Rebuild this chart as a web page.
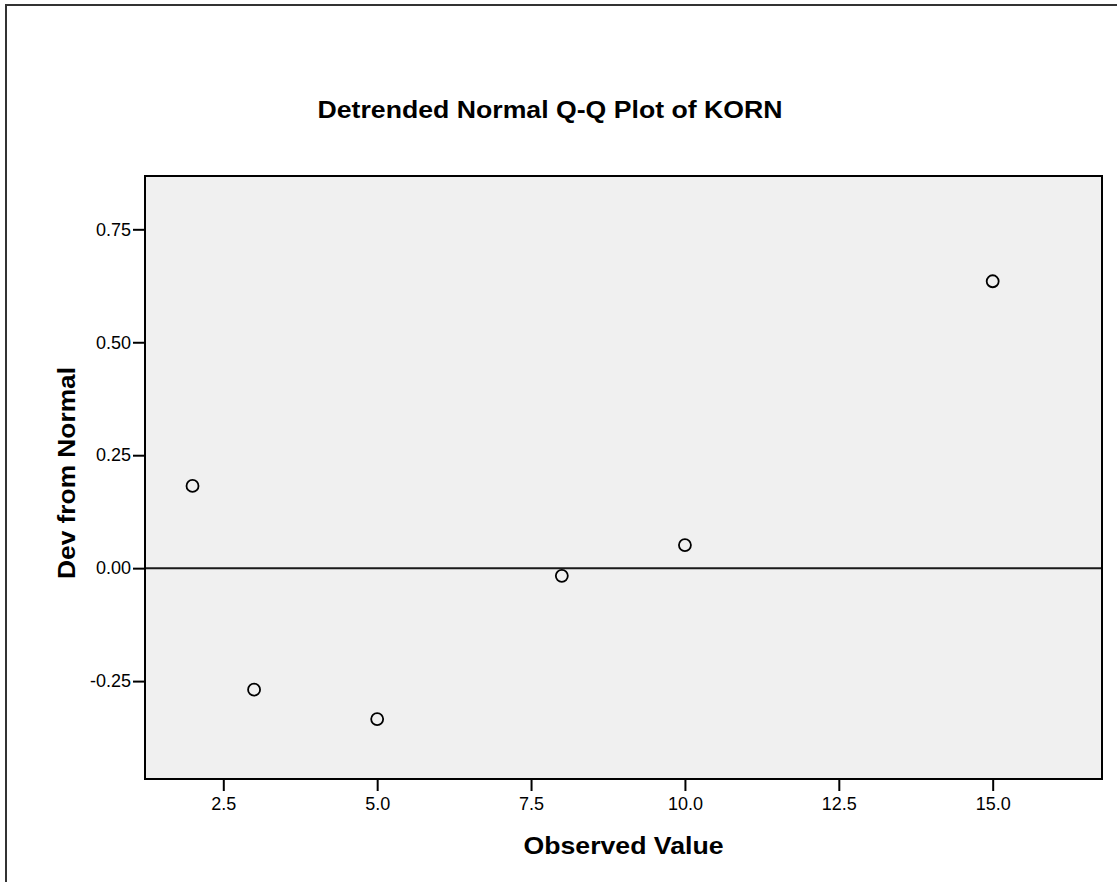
<!DOCTYPE html>
<html>
<head>
<meta charset="utf-8">
<script src="https://cdn.jsdelivr.net/npm/d3@7"></script>
<style>
  html, body { margin: 0; padding: 0; background: #fff; }
  svg { display: block; font-family: "Liberation Sans", Arial, sans-serif; }
</style>
</head>
<body>
<div id="chart"></div>
<script>
// observed values and their deviation from normal
const observed = [2, 3, 5, 8, 10, 15];
const deviation = [0.182, -0.269, -0.334, -0.017, 0.051, 0.635];

const xTicks = [2.5, 5.0, 7.5, 10.0, 12.5, 15.0];
const yTicks = [-0.25, 0.0, 0.25, 0.5, 0.75];
const xRange = [1.228, 16.776];
const yRange = [-0.4667, 0.868];

const title = "Detrended Normal Q-Q Plot of KORN";
const xTitle = "Observed Value";
const yTitle = "Dev from Normal";

const width = 1117;
const height = 882;
const margin = { top: 176, right: 15, bottom: 103, left: 145 };

const svg = d3
  .select("#chart")
  .append("svg")
  .attr("width", width)
  .attr("height", height);

// outer frame (only top and left edges are visible in the crop)
svg
  .append("path")
  .attr("d", `M6,${height} V5 H${width}`)
  .attr("fill", "none")
  .attr("stroke", "#333")
  .attr("stroke-width", 2);

const x = d3
  .scaleLinear()
  .domain(xRange)
  .range([margin.left, width - margin.right]);
const y = d3
  .scaleLinear()
  .domain(yRange)
  .range([height - margin.bottom, margin.top]);

// plot background
svg
  .append("rect")
  .attr("x", margin.left)
  .attr("y", margin.top)
  .attr("width", width - margin.left - margin.right)
  .attr("height", height - margin.top - margin.bottom)
  .attr("fill", "#f0f0f0");

// zero reference line
svg
  .append("line")
  .attr("x1", margin.left)
  .attr("x2", width - margin.right)
  .attr("y1", y(0))
  .attr("y2", y(0))
  .attr("stroke", "#1a1a1a")
  .attr("stroke-width", 2);

svg
  .append("g")
  .selectAll("circle")
  .data(observed.map((d, i) => [d, deviation[i]]))
  .join("circle")
  .attr("cx", (d) => x(d[0]))
  .attr("cy", (d) => y(d[1]))
  .attr("r", 6)
  .attr("fill", "none")
  .attr("stroke", "#000")
  .attr("stroke-width", 1.8);

// plot frame
svg
  .append("rect")
  .attr("x", margin.left)
  .attr("y", margin.top)
  .attr("width", width - margin.left - margin.right)
  .attr("height", height - margin.top - margin.bottom)
  .attr("fill", "none")
  .attr("stroke", "#000")
  .attr("stroke-width", 2);

// SPSS prints a plain hyphen for negatives
const fmt = (spec) => (d) => d3.format(spec)(d).replace("\u2212", "-");

const xAxis = svg
  .append("g")
  .attr("transform", `translate(0,${height - margin.bottom})`)
  .call(
    d3
      .axisBottom(x)
      .tickValues(xTicks)
      .tickFormat(fmt(".1f"))
      .tickSize(12)
      .tickPadding(6)
  );

const yAxis = svg
  .append("g")
  .attr("transform", `translate(${margin.left},0)`)
  .call(
    d3
      .axisLeft(y)
      .tickValues(yTicks)
      .tickFormat(fmt(".2f"))
      .tickSize(12)
      .tickPadding(2)
  );

[xAxis, yAxis].forEach((g) => {
  g.attr("font-size", null).attr("font-family", null);
  g.select(".domain").remove();
  g.selectAll(".tick line").attr("stroke", "#000").attr("stroke-width", 2);
  g.selectAll(".tick text")
    .attr("fill", "#000")
    .style("font-size", "18px");
});

svg
  .append("text")
  .attr("x", 550)
  .attr("y", 118)
  .attr("text-anchor", "middle")
  .attr("textLength", 465)
  .attr("lengthAdjust", "spacingAndGlyphs")
  .style("font-size", "24px")
  .style("font-weight", "bold")
  .text(title);

svg
  .append("text")
  .attr("x", (margin.left + width - margin.right) / 2)
  .attr("y", 854)
  .attr("text-anchor", "middle")
  .attr("textLength", 200)
  .attr("lengthAdjust", "spacingAndGlyphs")
  .style("font-size", "24px")
  .style("font-weight", "bold")
  .text(xTitle);

svg
  .append("text")
  .attr("transform", `translate(75,473) rotate(-90)`)
  .attr("text-anchor", "middle")
  .attr("textLength", 212)
  .attr("lengthAdjust", "spacingAndGlyphs")
  .style("font-size", "24px")
  .style("font-weight", "bold")
  .text(yTitle);
</script>
</body>
</html>
